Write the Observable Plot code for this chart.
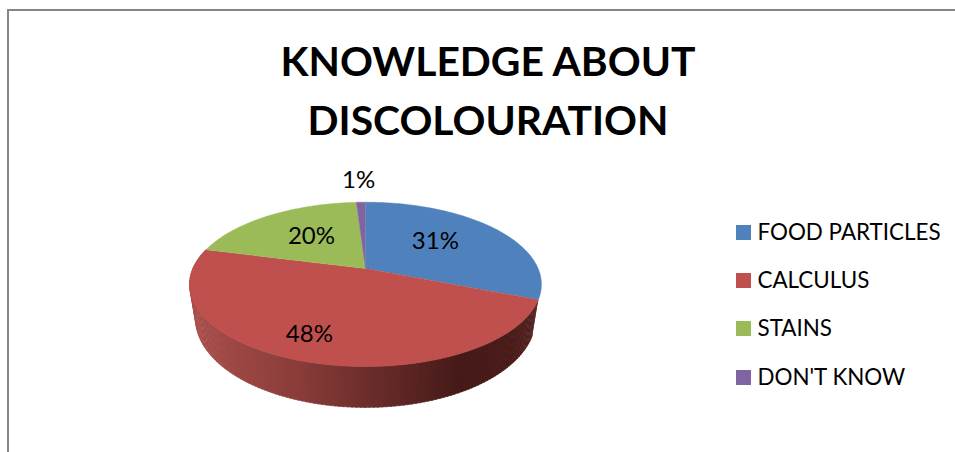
<!DOCTYPE html>
<html>
<head>
<meta charset="utf-8">
<script src="https://cdn.jsdelivr.net/npm/d3@7"></script>
<script src="https://cdn.jsdelivr.net/npm/@observablehq/plot@0.6"></script>
<style>
html,body{margin:0;padding:0;background:#fff;}
#page{position:relative;width:955px;height:452px;overflow:hidden;font-family:Lato,"Open Sans",sans-serif;color:#000;}
#frame{position:absolute;left:7px;top:9px;width:1000px;height:500px;border:2px solid #868686;}
#title{position:absolute;left:188px;width:600px;top:31px;margin:0;text-align:center;font-size:40.8px;line-height:59px;font-weight:700;}
#chart{position:absolute;left:0;top:0;}
#legend{position:absolute;left:736px;top:218px;}
.row{position:absolute;left:0;white-space:nowrap;font-size:22.4px;line-height:28px;height:28px;padding-left:21.5px;}
.sw{position:absolute;left:0;top:7px;width:15px;height:15px;}
</style>
</head>
<body>
<div id="page">
  <div id="frame"></div>
  <h1 id="title">KNOWLEDGE ABOUT<br>DISCOLOURATION</h1>
  <div id="chart"></div>
  <div id="legend"></div>
</div>
<script>
const categories = ["FOOD PARTICLES", "CALCULUS", "STAINS", "DON'T KNOW"];
const percents = [31, 48, 20, 1];
const colors = ["#4F81BD", "#C0504D", "#9BBB59", "#8064A2"];
const percentLabels = ["31%", "48%", "20%", "1%"];

// layout of the tilted disc, in unit disc coordinates
const tilt = 0.193, depth = 0.417, bottomShrink = 0.966;
const labelSpots = [[0.405, -0.35], [-0.325, 0.835], [-0.313, -0.405], [-0.04, -1.11]];
const shadeStops = [-1.02, -0.4, 0.55, 0.85, 1.02];
const shadeColors = ["#a94f4c", "#8a3c39", "#451a19", "#4a1c1a", "#54211f"];

const project = (deg, r = 1) => {
  const a = deg * Math.PI / 180, u = Math.sin(a) * r, v = Math.cos(a) * r, w = 1 + tilt * v;
  return {x: u / w, y: -v / w, w};
};

let start = 0;
const slices = percents.map((p, i) => {
  const s = {i, a0: start * 3.6, a1: (start + p) * 3.6};
  start += p;
  return s;
});

const topPts = [];
for (const s of slices) {
  topPts.push({i: s.i, ...project(0, 0)});
  const n = Math.max(2, Math.ceil((s.a1 - s.a0) / 1));
  for (let k = 0; k <= n; k++) topPts.push({i: s.i, ...project(s.a0 + (s.a1 - s.a0) * k / n)});
}

// the outer wall of the calculus slice, in narrow strips
const red = slices[1];
const wall = [];
const step = 1.2;
for (let a = red.a0, id = 0; a < red.a1; a += step, id++) {
  const b = Math.min(a + step + 0.3, red.a1);
  const p0 = project(a), p1 = project(b);
  const q = p => ({x: p.x * bottomShrink, y: p.y + depth / p.w});
  const shade = (p0.x + p1.x) / 2;
  [p0, p1, q(p1), q(p0)].forEach(p => wall.push({id, x: p.x, y: p.y, shade}));
}

const plot = Plot.plot({
  width: 955, height: 452,
  margin: 0,
  style: {background: "none", overflow: "visible"},
  x: {domain: [-1, 1], range: [365 - 172.6, 365 + 172.6], axis: null},
  y: {domain: [-1, 1], range: [268 - 79.1, 268 + 79.1], axis: null},
  color: {type: "linear", domain: shadeStops, range: shadeColors, interpolate: "rgb"},
  marks: [
    Plot.line(wall, {x: "x", y: "y", z: "id", fill: "shade", stroke: "shade", strokeWidth: 0.6}),
    ...slices.map(s => Plot.line(topPts.filter(d => d.i === s.i), {
      x: "x", y: "y", fill: colors[s.i], stroke: colors[s.i], strokeWidth: 0.5
    })),
    Plot.text(percentLabels, {
      x: (d, i) => labelSpots[i][0],
      y: (d, i) => labelSpots[i][1],
      text: d => d,
      fontSize: 24,
      fontFamily: "Lato",
      fill: "#000"
    })
  ]
});
document.getElementById("chart").appendChild(plot);

const legend = document.getElementById("legend");
const rowTops = [0, 48, 96, 145];
categories.forEach((c, i) => {
  const row = document.createElement("div");
  row.className = "row";
  row.style.top = rowTops[i] + "px";
  const sw = document.createElement("span");
  sw.className = "sw";
  sw.style.background = colors[i];
  row.appendChild(sw);
  row.appendChild(document.createTextNode(c));
  legend.appendChild(row);
});
</script>
</body>
</html>
